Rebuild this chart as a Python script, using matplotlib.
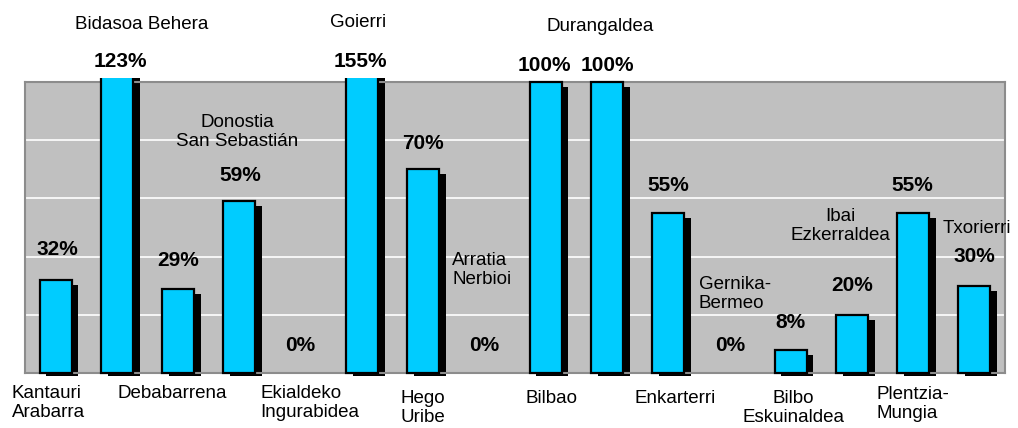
import matplotlib.pyplot as plt
import matplotlib.patches as mpatches
import numpy as np

plt.rcParams['font.family'] = ['Liberation Sans', 'DejaVu Sans']

# Data
regions = ['Kantauri\nArabarra', 'Bidasoa Behera', 'Debabarrena', 'Donostia\nSan Sebastián',
           'Ekialdeko\nIngurabidea', 'Goierri', 'Hego\nUribe', 'Arratia\nNerbioi',
           'Bilbao', 'Durangaldea', 'Enkarterri', 'Gernika-\nBermeo',
           'Bilbo\nEskuinaldea', 'Ibai\nEzkerraldea', 'Plentzia-\nMungia', 'Txorierri']
values = [32, 123, 29, 59, 0, 155, 70, 0, 100, 100, 55, 0, 8, 20, 55, 30]

# Label layout (data units): percent label height, region label offset/height/alignment
pct_y = [42.3, 106.9, 38.8, 68, 9.6, 106.9, 79, 9.6, 105.8, 105.8, 64.6, 9.6, 17.2, 30.2, 64.3, 39.9]
pct_dx = [0.03, 0.05, 0.0, 0.02, 0.0, -0.03, 0.0, 0.0, -0.02, 0.0, 0.0, 0.01, 0.0, 0.0, -0.01, 0.0]
name_dx = [-0.12, 0.41, -0.1, -0.04, 0.15, -0.06, 0.0, -0.04, 0.09, -0.11, 0.11, 0.09, 0.04, -0.18, 0.0, 0.04]
name_y = [-10.3, 119.6, -6.9, 82.8, -10.3, 120.6, -11.9, 35.4, -8.6, 119.2, -8.6, 27.1, -12.0, 50.5, -10.7, 49.5]
name_align = ['left', 'center', 'center', 'center', 'left', 'center', 'left', 'left',
              'center', 'center', 'center', 'left', 'center', 'center', 'left', 'center']

TOP = 101.5  # bars taller than this are cut at the top

fig = plt.figure(figsize=(10.18, 4.28), dpi=100)
ax = fig.add_axes([25 / 1018, 55 / 428, 980 / 1018, 291 / 428])
ax.set_facecolor('#c0c0c0')
ax.set_xlim(-0.5, len(values) - 0.5)
ax.set_ylim(0, 100)
ax.set_yticks([20, 40, 60, 80])
ax.grid(axis='y', color='white', linewidth=1.2)
ax.set_axisbelow(True)
ax.set_xticks([])
ax.tick_params(left=False, labelleft=False)
for s in ax.spines.values():
    s.set_color('#8c8c8c')
    s.set_linewidth(1.5)

x = np.arange(len(values))
vals = np.array(values)
shown = vals > 0

# region a bit larger than the axes, bars get cut at TOP
clip = mpatches.Rectangle((-0.5, -2), len(values), TOP + 2, transform=ax.transData)

# shadow then bar
shadows = ax.bar(x[shown] + 0.11, vals[shown] - 1.7 + 1.0, bottom=-1.0, width=0.52,
                 color='black', zorder=2)
bars = ax.bar(x[shown], vals[shown], width=0.52, color='#00ccff', edgecolor='black',
              linewidth=1.6, zorder=3)
for p in list(shadows) + list(bars):
    p.set_clip_path(clip)

for i in range(len(values)):
    ax.text(x[i] + pct_dx[i], pct_y[i], f'{values[i]}%', ha='center', va='center',
            fontsize=15, fontweight='bold', clip_on=False, zorder=4)
    ax.text(x[i] + name_dx[i], name_y[i], regions[i], ha='center', va='center',
            multialignment=name_align[i], fontsize=13.5, linespacing=1.15,
            clip_on=False, zorder=4)

fig.savefig('out.png', dpi=100)
